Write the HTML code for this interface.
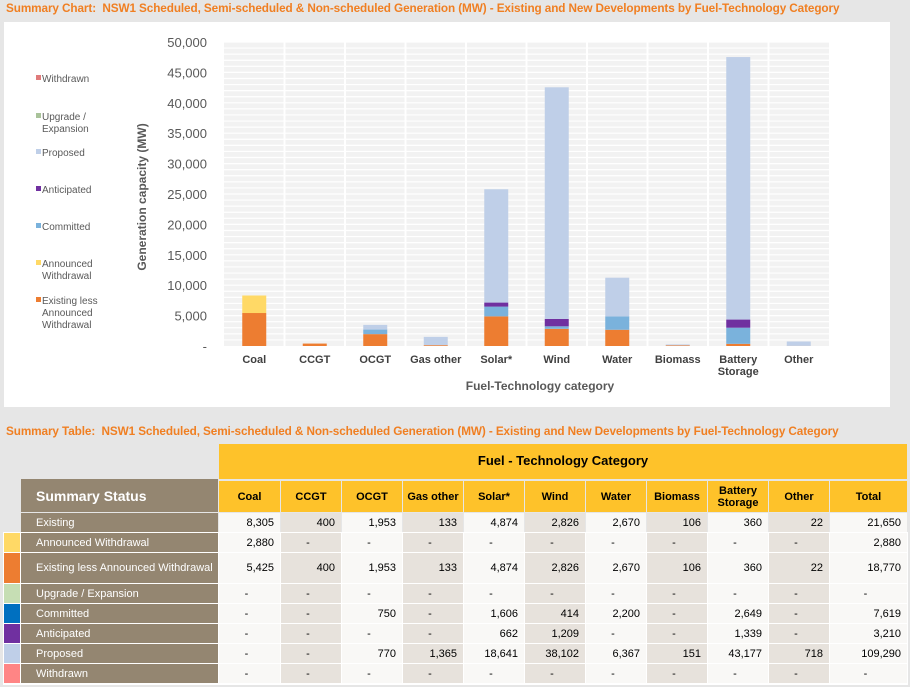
<!DOCTYPE html>
<html><head><meta charset="utf-8">
<style>
body{margin:0;width:910px;height:687px;background:#e6e6e6;font-family:"Liberation Sans",sans-serif;position:relative;overflow:hidden}
.t{position:absolute;color:#f07f22;font-weight:bold;font-size:11.75px;left:6px;letter-spacing:-0.1px}
#panel{position:absolute;left:4px;top:22px;width:886px;height:385px;background:#fff}
.c{position:absolute;box-sizing:border-box;font-size:11px;display:flex;align-items:center;white-space:nowrap}
</style></head><body>
<div class="t" style="top:2px">Summary Chart:&nbsp; NSW1 Scheduled, Semi-scheduled &amp; Non-scheduled Generation (MW) - Existing and New Developments by Fuel-Technology Category</div>
<div id="panel"></div>
<svg id="chart" width="910" height="420" style="position:absolute;left:0;top:0"></svg>
<div class="t" style="top:425px">Summary Table:&nbsp; NSW1 Scheduled, Semi-scheduled &amp; Non-scheduled Generation (MW) - Existing and New Developments by Fuel-Technology Category</div>
<div id="table"></div>
<script>
const categories=["Coal","CCGT","OCGT","Gas other","Solar*","Wind","Water","Biomass","Battery Storage","Other"];
const existingLess=[5425,400,1953,133,4874,2826,2670,106,360,22];
const upgrade=[0,0,0,0,0,0,0,0,0,0];
const committed=[0,0,750,0,1606,414,2200,0,2649,0];
const anticipated=[0,0,0,0,662,1209,0,0,1339,0];
const proposed=[0,0,770,1365,18641,38102,6367,151,43177,718];
const announced=[2880,0,0,0,0,0,0,0,0,0];
const withdrawn=[0,0,0,0,0,0,0,0,0,0];
const yTicks=[0,5000,10000,15000,20000,25000,30000,35000,40000,45000,50000];
const NS="http://www.w3.org/2000/svg";
const svg=document.getElementById('chart');
const X0=224,X1=829,Y0=346,Y1=42,YMAX=50000;
const cw=(X1-X0)/categories.length;
function y(v){return Y0-(v/YMAX)*(Y0-Y1);}
function xc(i){return X0+cw*(i+0.5);}
function el(t,a){const e=document.createElementNS(NS,t);for(const k in a)e.setAttribute(k,a[k]);svg.appendChild(e);return e;}
let bg=el('rect',{x:X0,y:Y1,width:X1-X0,height:Y0-Y1,fill:'#f2f2f2'});


for(let v=1000;v<=YMAX;v+=1000){let g=el('line',{x1:X0,x2:X1,y1:y(v),y2:y(v),stroke:'#fff','stroke-width':1.2});

}
for(let i=1;i<categories.length;i++){let g=el('line',{x1:X0+cw*i,x2:X0+cw*i,y1:Y1,y2:Y0,stroke:'#fff','stroke-width':2});

}
yTicks.forEach(v=>{let t=el('text',{x:207,y:y(v)+5,'text-anchor':'end','font-size':13,fill:'#595959'});t.textContent=v==0?'-':v.toLocaleString('en-US');

});
const series=[[existingLess,'#ED7D31','existing-less'],[upgrade,'#A9C39A','upgrade'],[committed,'#7AB2DC','committed'],[anticipated,'#7030A0','anticipated'],[proposed,'#BFCFE8','proposed'],[announced,'#FFD966','announced-withdrawal'],[withdrawn,'#E07B7B','withdrawn']];
categories.forEach((c,i)=>{let acc=0;series.forEach(s=>{const v=s[0][i];if(v>0){let r=el('rect',{x:xc(i)-12,y:y(acc+v),width:24,height:y(acc)-y(acc+v),fill:s[1]});

acc+=v;}});
const parts=c=="Battery Storage"?["Battery","Storage"]:[c];
parts.forEach((p,j)=>{let t=el('text',{x:xc(i),y:363+j*12,'text-anchor':'middle','font-size':11,'font-weight':'bold',fill:'#404040'});t.textContent=p;

});});
let xt=el('text',{x:540,y:390,'text-anchor':'middle','font-size':12,'font-weight':'bold',fill:'#595959'});xt.textContent='Fuel-Technology  category';


let yt=el('text',{x:0,y:0,'text-anchor':'middle','font-size':12,'font-weight':'bold',fill:'#595959',transform:'translate(146,197) rotate(-90)'});yt.textContent='Generation capacity (MW)';


const legend=[["#E07B7B",["Withdrawn"],78],["#A9C39A",["Upgrade /","Expansion"],116],["#BFCFE8",["Proposed"],152],["#7030A0",["Anticipated"],189],["#7AB2DC",["Committed"],226],["#FFD966",["Announced","Withdrawal"],263],["#ED7D31",["Existing less","Announced","Withdrawal"],300]];
legend.forEach(l=>{let r=el('rect',{x:36,y:l[2]-3,width:5,height:5,fill:l[0]});


l[1].forEach((s,j)=>{let t=el('text',{x:42,y:l[2]+4+j*12,'font-size':10,fill:'#595959'});t.textContent=s;

});});

const tb=document.getElementById('table');
function cell(x,yy,w,h,txt,st,name){const d=document.createElement('div');d.className='c';d.style.cssText=`left:${x}px;top:${yy}px;width:${w}px;height:${h}px;`+st;d.textContent=txt;


tb.appendChild(d);return d;}
cell(219,444,688,35,'Fuel - Technology Category','background:#FEC22A;justify-content:center;font-weight:bold;font-size:13px;padding-bottom:2px','table-group-header');
cell(21,479,197,33,'Summary Status','background:#948671;color:#fff;font-weight:bold;font-size:14px;padding-left:15px','summary-status-header');
const cols=["Coal","CCGT","OCGT","Gas other","Solar*","Wind","Water","Biomass","Battery\nStorage","Other","Total"];
const colX=[219,281,342,403,464,525,586,647,708,769,830];
const colW=[61,60,60,60,60,60,60,60,60,60,77];
cols.forEach((c,i)=>{let d=cell(colX[i],481,colW[i],31,'','background:#FEC22A;justify-content:center;font-weight:bold;text-align:center;line-height:12px','column-header');d.innerHTML=c.replace('\n','<br>');});
const rows=[["Existing",null,513,19,["8,305","400","1,953","133","4,874","2,826","2,670","106","360","22","21,650"]],
["Announced Withdrawal","#FFD966",533,19,["2,880","-","-","-","-","-","-","-","-","-","2,880"]],
["Existing less Announced Withdrawal","#ED7D31",553,30,["5,425","400","1,953","133","4,874","2,826","2,670","106","360","22","18,770"]],
["Upgrade / Expansion","#C6DEB4",584,19,["-","-","-","-","-","-","-","-","-","-","-"]],
["Committed","#0070C0",604,19,["-","-","750","-","1,606","414","2,200","-","2,649","-","7,619"]],
["Anticipated","#7030A0",624,19,["-","-","-","-","662","1,209","-","-","1,339","-","3,210"]],
["Proposed","#BFCFE8",644,19,["-","-","770","1,365","18,641","38,102","6,367","151","43,177","718","109,290"]],
["Withdrawn","#FF8585",664,19,["-","-","-","-","-","-","-","-","-","-","-"]]];
const bgWhite=document.createElement('div');bgWhite.style.cssText='position:absolute;left:3px;top:532px;width:905px;height:153px;background:#fff';


tb.appendChild(bgWhite);
rows.forEach(r=>{
 if(r[1])cell(4,r[2],16,r[3],'','background:'+r[1],'status-swatch');
 cell(21,r[2],197,r[3],r[0],'background:#948671;color:#fff;padding-left:15px','row-label');
 r[4].forEach((v,i)=>{const dash=v=='-';cell(colX[i],r[2],colW[i],r[3],v,'background:'+(i%2?'#e7e2dc':'#f9f8f6')+';justify-content:'+(dash?'center':'flex-end')+';padding-right:6px','table-cell');});
});
</script>
</body></html>
